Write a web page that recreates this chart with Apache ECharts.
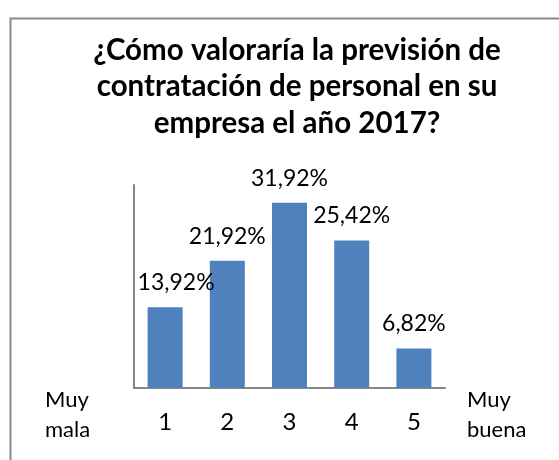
<!DOCTYPE html>
<html>
<head>
<meta charset="utf-8">
<script src="https://cdn.jsdelivr.net/npm/echarts@6/dist/echarts.min.js"></script>
<style>
  html, body { margin: 0; padding: 0; background: #fff; }
  #chart { width: 559px; height: 460px; }
</style>
</head>
<body>
<div id="chart"></div>
<script>
// data
const categories = ['1', '2', '3', '4', '5'];
const values = [13.92, 21.92, 31.92, 25.42, 6.82];
const titleText = '¿Cómo valoraría la previsión de\ncontratación de personal en su\nempresa el año 2017?';
const leftEndLabel = 'Muy\nmala';
const rightEndLabel = 'Muy\nbuena';

const fontFamily = 'Lato, "Open Sans", sans-serif';

const chart = echarts.init(document.getElementById('chart'), null, { renderer: 'canvas' });

const option = {
  animation: false,
  title: {
    text: titleText,
    left: 292,
    textAlign: 'center',
    top: 27,
    textStyle: {
      fontFamily: fontFamily,
      fontWeight: 'bold',
      fontSize: 29.5,
      lineHeight: 36.5,
      color: '#000'
    }
  },
  grid: {
    left: 134,
    right: 114,
    top: 185,
    bottom: 72
  },
  xAxis: {
    type: 'category',
    data: categories,
    axisLine: { lineStyle: { color: '#868686', width: 2 } },
    axisTick: { show: false },
    axisLabel: {
      color: '#000',
      fontFamily: fontFamily,
      fontSize: 24,
      margin: 22
    }
  },
  yAxis: {
    type: 'value',
    min: 0,
    max: 35,
    axisLine: { show: true, lineStyle: { color: '#868686', width: 2 } },
    axisTick: { show: false },
    axisLabel: { show: false },
    splitLine: { show: false }
  },
  series: [{
    type: 'bar',
    data: values.map((v, i) => i === 0
      ? { value: v, label: { offset: [11, 0] } }
      : v),
    barWidth: 35,
    itemStyle: { color: '#4F81BD' },
    label: {
      show: true,
      position: 'top',
      distance: 13,
      color: '#000',
      fontFamily: fontFamily,
      fontSize: 23,
      formatter: p => p.value.toFixed(2).replace('.', ',') + '%'
    }
  }],
  graphic: [
    {
      type: 'rect',
      left: 8,
      top: 16,
      shape: { width: 600, height: 500 },
      style: { fill: 'none', stroke: '#898989', lineWidth: 2 },
      silent: true
    },
    {
      type: 'text',
      left: 45,
      top: 385,
      style: {
        text: leftEndLabel,
        fontFamily: fontFamily,
        fontSize: 22,
        lineHeight: 30,
        fill: '#000'
      }
    },
    {
      type: 'text',
      left: 467,
      top: 385,
      style: {
        text: rightEndLabel,
        fontFamily: fontFamily,
        fontSize: 22,
        lineHeight: 30,
        fill: '#000'
      }
    }
  ]
};

chart.setOption(option);
</script>
</body>
</html>
